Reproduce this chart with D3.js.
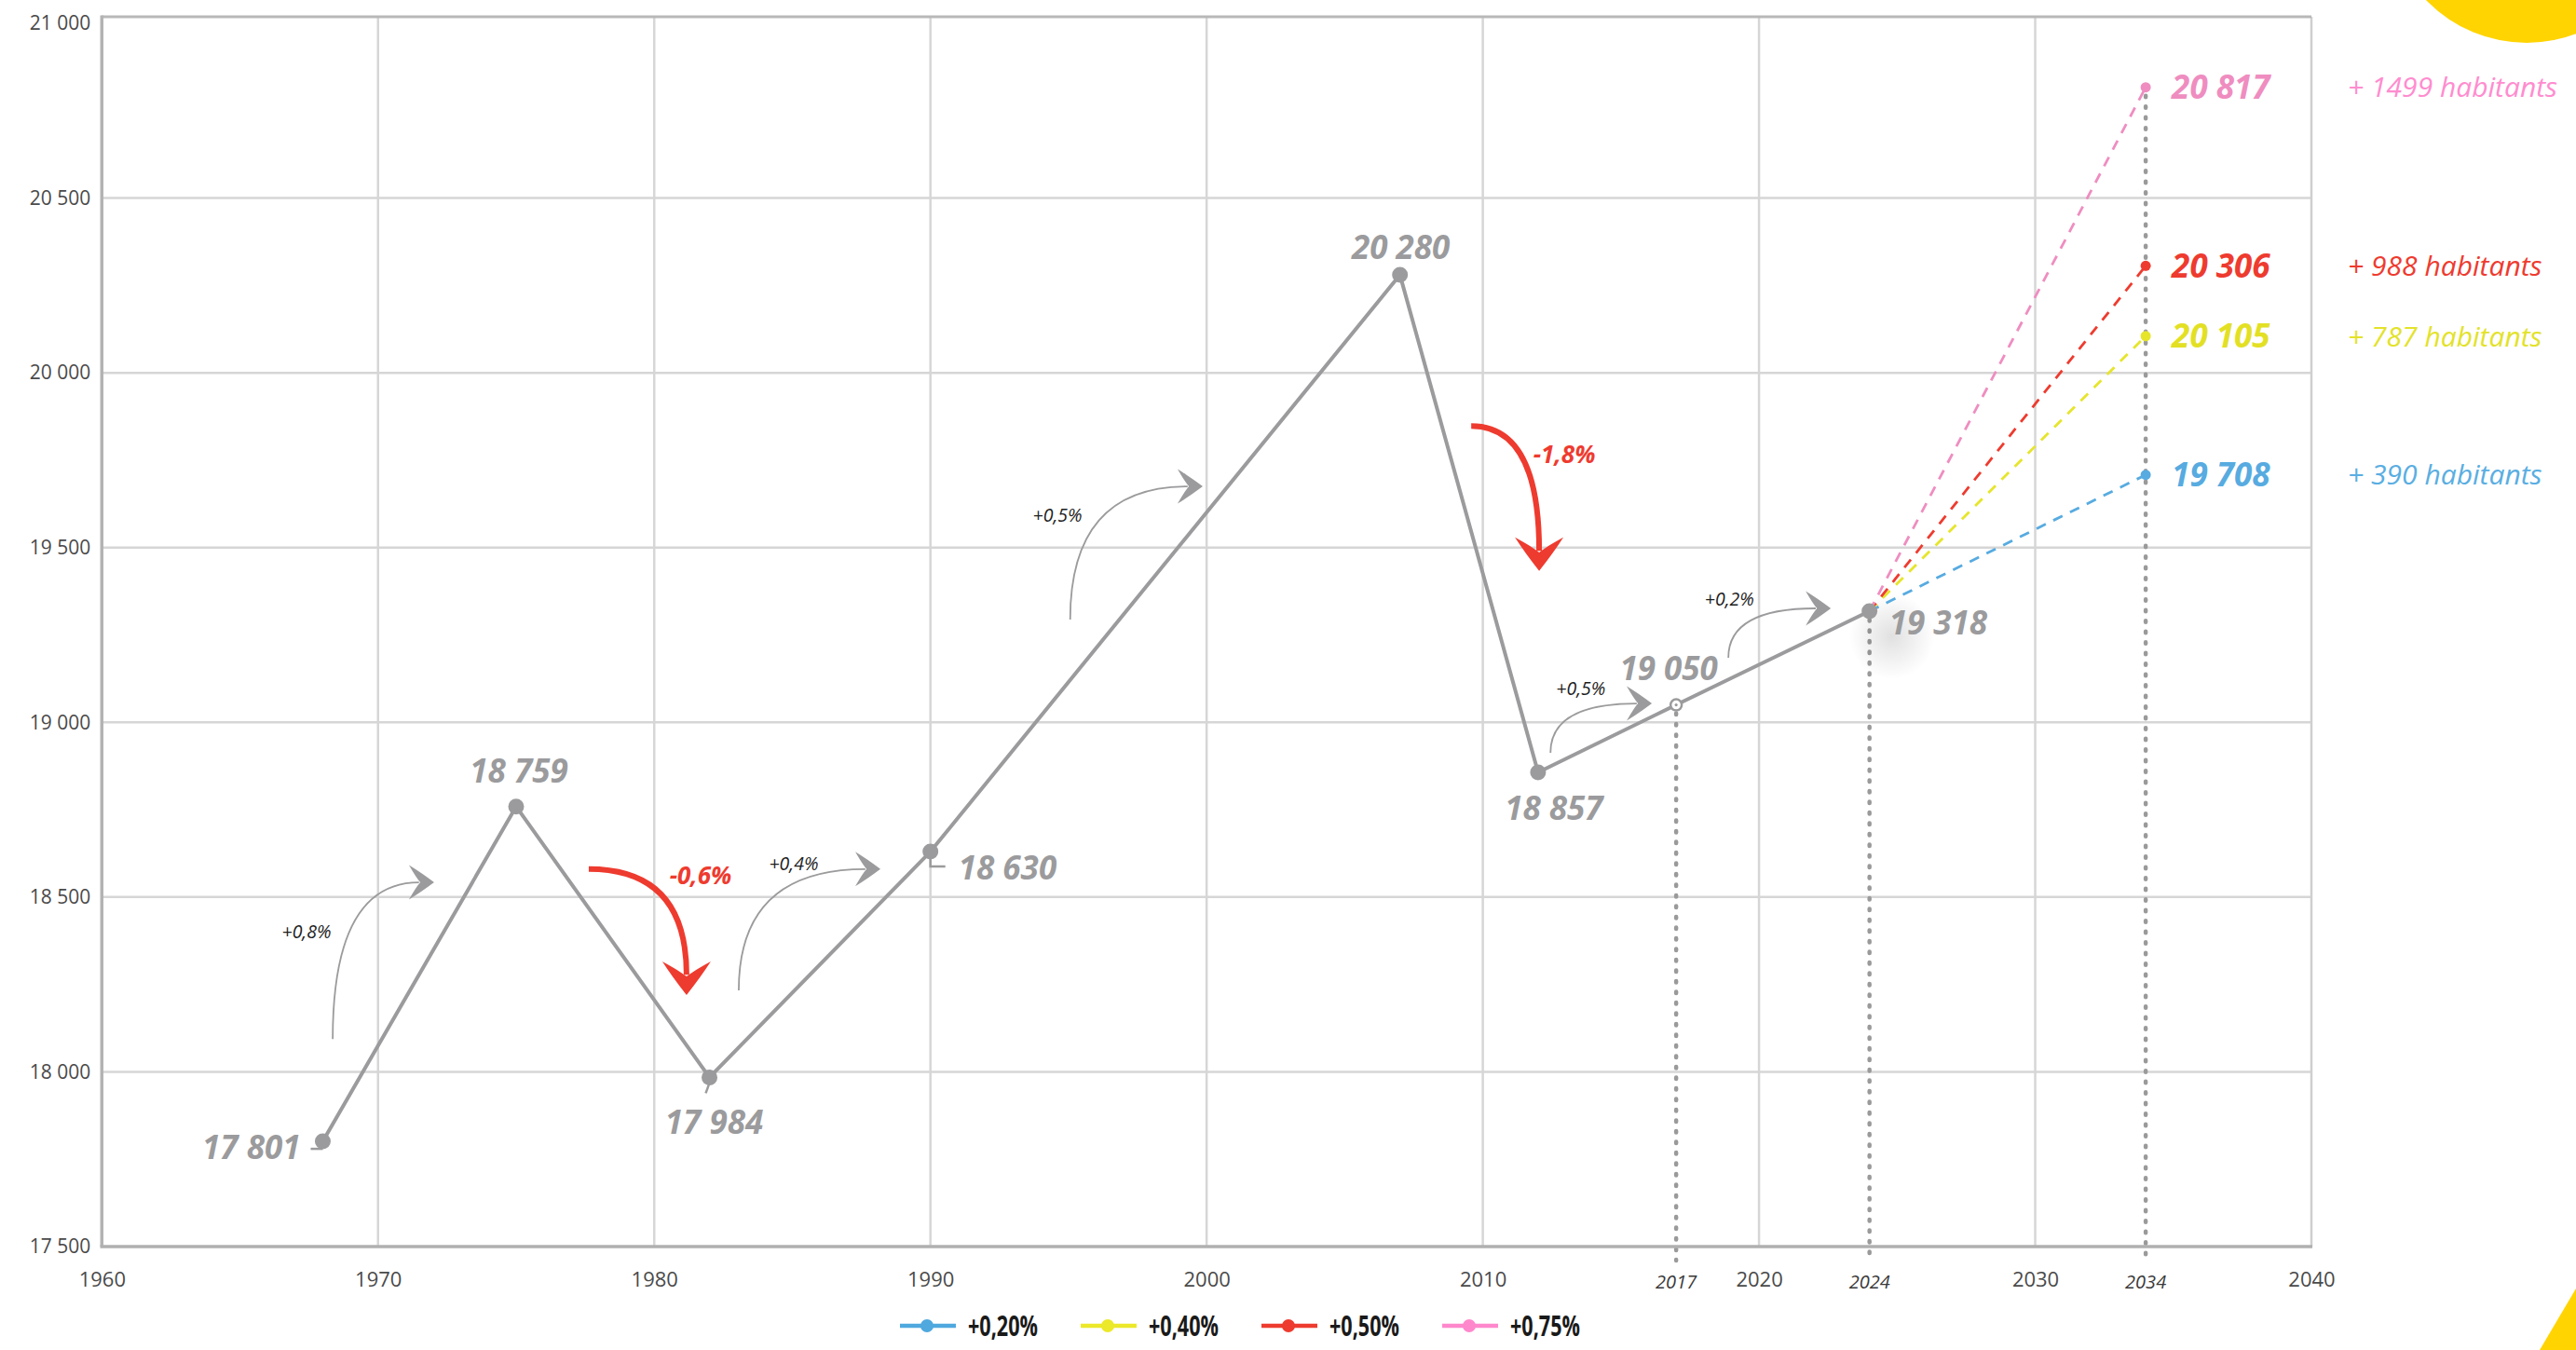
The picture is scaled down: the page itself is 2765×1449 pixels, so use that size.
<!DOCTYPE html>
<html>
<head>
<meta charset="utf-8">
<script src="https://cdn.jsdelivr.net/npm/d3@7"></script>
<style>
  html, body { margin: 0; padding: 0; background: #fff; }
  svg { display: block; }
</style>
</head>
<body>
<script>
// ---------------- DATA ----------------
const years = [1968, 1975, 1982, 1990, 2007, 2012, 2017, 2024];
const population = [17801, 18759, 17984, 18630, 20280, 18857, 19050, 19318];
const hollowYears = [2017];

const projYear = 2034;
const projRates = ["+0,20%", "+0,40%", "+0,50%", "+0,75%"];
const projValues = [19708, 20105, 20306, 20817];
const projGains = [390, 787, 988, 1499];

const xTicks = [1960, 1970, 1980, 1990, 2000, 2010, 2020, 2030, 2040];
const xSpecialTicks = [2017, 2024, 2034];
const yTicks = [17500, 18000, 18500, 19000, 19500, 20000, 20500, 21000];

// growth annotations: label, from (year,value), to (year,value), label anchor (year,value)
const growthLabels = ["+0,8%", "-0,6%", "+0,4%", "+0,5%", "-1,8%", "+0,5%", "+0,2%"];
const growthFrom = [[1968.36, 18094], [1977.63, 18580], [1983.06, 18233], [1995.06, 19294], [2009.58, 19848], [2012.45, 18913], [2018.89, 19185]];
const growthTo   = [[1972.03, 18542], [1981.17, 18220], [1988.19, 18580], [1999.86, 19675], [2012.04, 19433], [2016.12, 19054], [2022.60, 19326]];
const growthAt   = [[1967.41, 18401], [1981.68, 18561], [1985.05, 18596], [1994.60, 19593], [2012.95, 19766], [2013.55, 19097], [2018.93, 19353]];

// ---------------- STYLE / LAYOUT ----------------
const W = 2765, H = 1449;
const colors = ["#57abe0", "#e6e52c", "#ee3b2f", "#ef8dc0"];
const valueColors = ["#57abe0", "#e3e024", "#ee3b2f", "#ef8dc0"];
const gainColors = ["#5aaee2", "#e3e22a", "#ee3b2f", "#ff8ccf"];
const legendColors = ["#4fa8de", "#ece82a", "#ee3b2f", "#ff88cc"];
const GREY = "#9b9b9d";
const RED = "#ee3b2f";
// label offsets for each historical point [dx, dy, anchor]
const labelOffsets = [[-24, 6, "end"], [3, -38, "middle"], [5, 48, "middle"], [30, 17, "start"],
                      [1, -30, "middle"], [17, 38, "middle"], [-8, -39, "middle"], [21, 12, "start"]];

const fmt = d3.formatLocale({decimal: ",", thousands: " ", grouping: [3], currency: ["", ""]}).format(",d");

const x = d3.scaleLinear().domain([1960, 2040]).range([109.3, 2481]);
const y = d3.scaleLinear().domain([17500, 21000]).range([1338, 25]);

const svg = d3.select("body").append("svg").attr("width", W).attr("height", H)
  .attr("viewBox", `0 0 ${W} ${H}`);

const defs = svg.append("defs");
const glow = defs.append("radialGradient").attr("id", "glow");
glow.append("stop").attr("offset", "0%").attr("stop-color", "#000").attr("stop-opacity", 0.12);
glow.append("stop").attr("offset", "100%").attr("stop-color", "#000").attr("stop-opacity", 0);

// decorative yellow corners
svg.append("circle").attr("cx", 2712).attr("cy", -104).attr("r", 150).attr("fill", "#ffd400");
svg.append("path").attr("d", "M2726,1449 L2765,1383 L2765,1449 Z").attr("fill", "#ffd400");

const x0 = x.range()[0], x1 = x.range()[1];
const yTop = y(21000) - 7, yBot = y(17500);

// grid
const grid = svg.append("g");
grid.selectAll("line.v").data(xTicks.filter(d => d > 1960 && d < 2040)).join("line")
  .attr("x1", d => x(d)).attr("x2", d => x(d)).attr("y1", yTop).attr("y2", yBot)
  .attr("stroke", "#d6d6d6").attr("stroke-width", 2.5);
grid.selectAll("line.h").data(yTicks.filter(d => d > 17500 && d < 21000)).join("line")
  .attr("x1", x0).attr("x2", x1).attr("y1", d => y(d)).attr("y2", d => y(d))
  .attr("stroke", "#d6d6d6").attr("stroke-width", 2.5);
// frame
svg.append("line").attr("x1", x1).attr("x2", x1).attr("y1", yTop).attr("y2", yBot)
  .attr("stroke", "#cfcfcf").attr("stroke-width", 2.5);
svg.append("line").attr("x1", x0).attr("x2", x1).attr("y1", yTop).attr("y2", yTop)
  .attr("stroke", "#b8b8b8").attr("stroke-width", 3);
svg.append("line").attr("x1", x0).attr("x2", x0).attr("y1", yTop - 1.5).attr("y2", yBot)
  .attr("stroke", "#b3b3b3").attr("stroke-width", 3.5);

// axes
const xAxis = svg.append("g").attr("transform", `translate(0,${yBot})`)
  .call(d3.axisBottom(x).tickValues(xTicks).tickSize(0).tickPadding(27).tickFormat(d3.format("d")));
xAxis.select(".domain").remove();
xAxis.selectAll("text").attr("font-family", "'Open Sans', sans-serif").attr("font-size", 22).attr("fill", "#4a4a4a");

const yAxis = svg.append("g").attr("transform", `translate(${x0},0)`)
  .call(d3.axisLeft(y).tickValues(yTicks).tickSize(0).tickPadding(12).tickFormat(fmt));
yAxis.select(".domain").remove();
yAxis.selectAll("text").attr("font-family", "'Open Sans', sans-serif").attr("font-size", 21).attr("fill", "#4a4a4a");

// vertical dotted lines for 2017, 2024, 2034
const dotTop = {2017: population[years.indexOf(2017)], 2024: population[years.indexOf(2024)], 2034: d3.max(projValues)};
svg.append("g").selectAll("line").data(xSpecialTicks).join("line")
  .attr("x1", d => x(d)).attr("x2", d => x(d))
  .attr("y1", d => y(dotTop[d]) + 9).attr("y2", yBot + 15)
  .attr("stroke", "#9a9a9a").attr("stroke-width", 4.5)
  .attr("stroke-dasharray", "1.5 10").attr("stroke-linecap", "round");

// bottom axis line (over dotted lines)
svg.append("line").attr("x1", x0 - 1.75).attr("x2", x1 + 1).attr("y1", yBot).attr("y2", yBot)
  .attr("stroke", "#b0b0b0").attr("stroke-width", 3.5);

// special year labels
svg.append("g").selectAll("text").data(xSpecialTicks).join("text")
  .attr("x", d => x(d)).attr("y", yBot + 45).attr("text-anchor", "middle")
  .attr("font-family", "'Open Sans', sans-serif").attr("font-style", "italic")
  .attr("font-size", 20).attr("fill", "#3a3a3a").text(d => d);

// glow behind last point
const lastX = x(years[years.length - 1]), lastY = y(population[population.length - 1]);
svg.append("circle").attr("cx", lastX + 24).attr("cy", lastY + 27).attr("r", 46).attr("fill", "url(#glow)");

// projection dashed lines
const projG = svg.append("g");
projValues.forEach((v, i) => {
  projG.append("path")
    .attr("d", d3.line().x(d => x(d[0])).y(d => y(d[1]))([[years[years.length - 1], population[population.length - 1]], [projYear, v]]))
    .attr("fill", "none").attr("stroke", colors[i]).attr("stroke-width", 2.8)
    .attr("stroke-dasharray", "11 9");
});
projG.selectAll("circle").data(projValues).join("circle")
  .attr("cx", x(projYear)).attr("cy", d => y(d)).attr("r", 5.5)
  .attr("fill", (d, i) => colors[i]);
projG.selectAll("text.val").data(projValues).join("text")
  .attr("x", x(projYear) + 28).attr("y", d => y(d)).attr("dy", "0.36em")
  .attr("font-family", "'Open Sans', sans-serif").attr("font-weight", 700).attr("font-style", "italic")
  .attr("font-size", 35).attr("fill", (d, i) => valueColors[i])
  .text(d => fmt(d));
projG.selectAll("text.gain").data(projGains).join("text")
  .attr("x", x(projYear) + 217).attr("y", (d, i) => y(projValues[i])).attr("dy", "0.36em")
  .attr("font-family", "'Open Sans', sans-serif").attr("font-weight", 400).attr("font-style", "italic")
  .attr("font-size", 30).attr("fill", (d, i) => gainColors[i])
  .text(d => "+ " + d + " habitants");

// main line
const pts = years.map((yr, i) => [yr, population[i]]);
svg.append("path").attr("d", d3.line().x(d => x(d[0])).y(d => y(d[1]))(pts))
  .attr("fill", "none").attr("stroke", GREY).attr("stroke-width", 4).attr("stroke-linejoin", "round");

// leaders
const lead = svg.append("g").attr("stroke", GREY).attr("stroke-width", 2.5).attr("fill", "none");
{
  const p0 = [x(years[0]), y(population[0])];
  lead.append("path").attr("d", `M${p0[0] - 13},${p0[1] + 8} H${p0[0]}`);
  const p2 = [x(years[2]), y(population[2])];
  lead.append("path").attr("d", `M${p2[0]},${p2[1] + 6} L${p2[0] - 4},${p2[1] + 17}`);
  const p3 = [x(years[3]), y(population[3])];
  lead.append("path").attr("d", `M${p3[0]},${p3[1] + 6} V${p3[1] + 16} H${p3[0] + 16}`);
}

// points
svg.append("g").selectAll("circle").data(pts).join("circle")
  .attr("cx", d => x(d[0])).attr("cy", d => y(d[1]))
  .attr("r", d => hollowYears.includes(d[0]) ? 6 : 8.5)
  .attr("fill", d => hollowYears.includes(d[0]) ? "#fff" : GREY)
  .attr("stroke", GREY).attr("stroke-width", d => hollowYears.includes(d[0]) ? 2.5 : 0);
svg.append("g").selectAll("circle").data(pts.filter(d => hollowYears.includes(d[0]))).join("circle")
  .attr("cx", d => x(d[0])).attr("cy", d => y(d[1])).attr("r", 1.6).attr("fill", GREY);

// point labels
svg.append("g").selectAll("text").data(pts).join("text")
  .attr("x", (d, i) => x(d[0]) + labelOffsets[i][0])
  .attr("y", (d, i) => y(d[1]) + labelOffsets[i][1])
  .attr("dy", "0.36em")
  .attr("text-anchor", (d, i) => labelOffsets[i][2])
  .attr("font-family", "'Open Sans', sans-serif").attr("font-weight", 700).attr("font-style", "italic")
  .attr("font-size", 35).attr("fill", GREY)
  .text(d => fmt(d[1]));

// growth arrows
function arrowHead(tip, dir, L, Wd) {
  const ux = dir[0], uy = dir[1];
  const nx = -uy, ny = ux;
  const P = (a, b) => [tip[0] + ux * a + nx * b, tip[1] + uy * a + ny * b];
  const t = P(0, 0), bl = P(-L, -Wd / 2), br = P(-L, Wd / 2), n = P(-0.55 * L, 0);
  const c1 = P(-0.55 * L, -0.3 * Wd), c2 = P(-0.7 * L, -0.12 * Wd), c3 = P(-0.7 * L, 0.12 * Wd), c4 = P(-0.55 * L, 0.3 * Wd);
  return `M${t} Q${c1} ${bl} Q${c2} ${n} Q${c3} ${br} Q${c4} ${t} Z`;
}
const arrows = svg.append("g");
growthLabels.forEach((lab, i) => {
  const neg = lab.startsWith("-");
  const s = [x(growthFrom[i][0]), y(growthFrom[i][1])];
  const t = [x(growthTo[i][0]), y(growthTo[i][1])];
  const c = neg ? [t[0], s[1]] : [s[0], t[1]];
  let dx = t[0] - c[0], dy = t[1] - c[1];
  const len = Math.hypot(dx, dy) || 1;
  dx /= len; dy /= len;
  const L = neg ? 36 : 27, Wd = neg ? 52 : 37;
  const e = [t[0] - dx * L * 0.6, t[1] - dy * L * 0.6];
  arrows.append("path").attr("d", `M${s} Q${neg ? [e[0], s[1]] : [s[0], e[1]]} ${e}`)
    .attr("fill", "none").attr("stroke", neg ? RED : GREY).attr("stroke-width", neg ? 6 : 1.8);
  arrows.append("path").attr("d", arrowHead(t, [dx, dy], L, Wd)).attr("fill", neg ? RED : GREY);
  arrows.append("text").attr("x", x(growthAt[i][0])).attr("y", y(growthAt[i][1])).attr("dy", "0.36em")
    .attr("text-anchor", "middle")
    .attr("font-family", "'Open Sans', sans-serif").attr("font-style", "italic")
    .attr("font-weight", neg ? 700 : 400).attr("font-size", neg ? 26 : 19.5)
    .attr("fill", neg ? RED : "#1e1e1e").text(lab);
});

// legend
const legend = svg.append("g").attr("transform", "translate(966,1423)");
projRates.forEach((r, i) => {
  const g = legend.append("g").attr("transform", `translate(${i * 194},0)`);
  g.append("line").attr("x1", 0).attr("x2", 60).attr("y1", 0).attr("y2", 0)
    .attr("stroke", legendColors[i]).attr("stroke-width", 4.5);
  g.append("circle").attr("cx", 29).attr("cy", 0).attr("r", 7).attr("fill", legendColors[i]);
  g.append("text").attr("x", 73).attr("y", 0).attr("dy", "0.36em")
    .attr("font-family", "'Open Sans', sans-serif")
    .attr("font-weight", 700).attr("font-size", 31).attr("fill", "#1a1a1a")
    .attr("textLength", 75).attr("lengthAdjust", "spacingAndGlyphs").text(r);
});
</script>
</body>
</html>
